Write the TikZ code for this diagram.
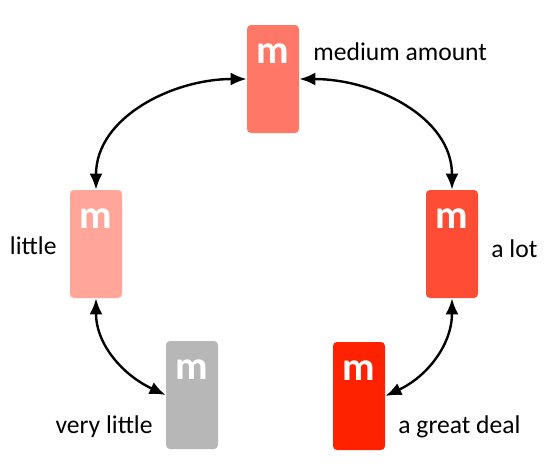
\documentclass[tikz,border=0pt]{standalone}
\usepackage{fontspec}
\setmainfont{Carlito}
\usetikzlibrary{arrows.meta, positioning}

\definecolor{cvlit}{HTML}{B7B7B7}
\definecolor{clit}{HTML}{FFA59A}
\definecolor{cmed}{HTML}{FF7766}
\definecolor{clot}{HTML}{FF4D35}
\definecolor{cdeal}{HTML}{FF2200}

\begin{document}
\begin{tikzpicture}[
    x=0.5pt, y=-0.5pt,
    amount/.style={rounded corners=2pt, minimum width=26pt, minimum height=54pt, inner sep=0pt},
    mletter/.style={text=white, font=\fontsize{20}{20}\selectfont\bfseries, inner sep=0pt},
    lbl/.style={font=\fontsize{12.8}{14}\selectfont, inner sep=0pt},
    arr/.style={{Latex[length=8pt,width=6.5pt]}-{Latex[length=8pt,width=6.5pt]}, line width=1.2pt},
]
\useasboundingbox (0,0) rectangle (560,473);

\node[amount, fill=cmed]  (med)  at (273,79)  {};
\node[amount, fill=clit]  (lit)  at (96,244)  {};
\node[amount, fill=clot]  (lot)  at (452,244) {};
\node[amount, fill=cvlit] (vlit) at (192,395) {};
\node[amount, fill=cdeal] (deal) at (359,396) {};

\node[mletter] (medm)  at ([yshift=-14.5pt]med.north)  {m};
\node[mletter] (litm)  at ([yshift=-14.5pt]lit.north)  {m};
\node[mletter] (lotm)  at ([yshift=-14.5pt]lot.north)  {m};
\node[mletter] (vlitm) at ([yshift=-14.5pt]vlit.north) {m};
\node[mletter] (dealm) at ([yshift=-14.5pt]deal.north) {m};

\node[lbl, anchor=base west] (medlbl)  at (313,60)  {medium amount};
\node[lbl, anchor=base east] (litlbl)  at (57,254)  {little};
\node[lbl, anchor=base west] (lotlbl)  at (491,257) {a lot};
\node[lbl, anchor=base east] (vlitlbl) at (153,433) {very little};
\node[lbl, anchor=base west] (deallbl) at (398,433) {a great deal};

\draw[arr] (med.west)  to[out=180, in=90]  (lit.north);
\draw[arr] (med.east)  to[out=0,   in=90]  (lot.north);
\draw[arr] (lit.south) to[out=-90, in=155] (vlit.west);
\draw[arr] (lot.south) to[out=-90, in=25]  (deal.east);

\end{tikzpicture}
\end{document}
